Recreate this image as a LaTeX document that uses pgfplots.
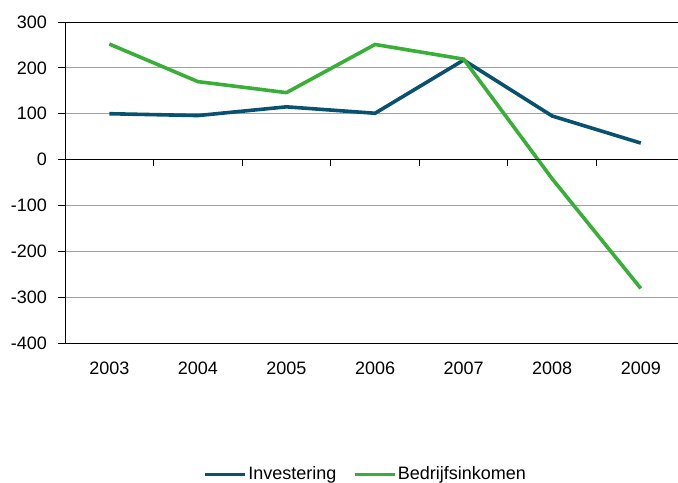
\documentclass[border=0pt]{standalone}
\usepackage{pgfplots}
\pgfplotsset{compat=1.18}
\usetikzlibrary{calc}
\usepackage{fontspec}
\setmainfont{Liberation Sans}
\definecolor{invblue}{RGB}{8,82,112}
\definecolor{bedgreen}{RGB}{56,176,56}
\definecolor{gridgray}{RGB}{160,160,160}

\begin{document}
\fontsize{18bp}{21bp}\selectfont
\begin{tikzpicture}
\begin{axis}[
    scale only axis,
    width=613bp, height=321bp,
    xmin=-0.5, xmax=6.42,
    ymin=-400, ymax=300,
    ytick={-400,-300,...,300},
    xtick=data,
    xticklabels={2003,2004,2005,2006,2007,2008,2009},
    axis x line*=bottom, axis y line*=left,
    axis line style={black, line width=0.9bp},
    major tick length=7bp,
    tick align=outside,
    ytick style={black, line width=0.9bp},
    xtick style={draw=none},
    ymajorgrids,
    grid style={gridgray, line width=0.9bp},
    /pgf/number format/assume math mode=true,
    tick label style={font=\fontsize{18bp}{21bp}\selectfont},
    xticklabel style={yshift=-6bp},
    yticklabel style={xshift=-5bp},
    legend style={at={(axis description cs:0.49,-0.41)}, anchor=center,
        draw=none, legend columns=2, font=\fontsize{18bp}{21bp}\selectfont,
        /tikz/every even column/.append style={column sep=15bp},
        nodes={inner xsep=1.5bp},
        inner sep=0pt},
    legend cell align=left,
    legend image code/.code={\draw[#1, line width=3.6bp] (0,0) -- (40bp,0);},
    clip=false,
]
\addplot[invblue, line width=3.6bp] coordinates {
    (0,100) (1,96) (2,115) (3,101) (4,217) (5,95) (6,36)};
\addlegendentry{Investering}
\addplot[bedgreen, line width=3.6bp] coordinates {
    (0,252) (1,170) (2,146) (3,251) (4,219) (5,-42) (6,-281)};
\addlegendentry{Bedrijfsinkomen}
\draw[black, line width=0.9bp] (rel axis cs:0,1) -- (rel axis cs:1,1);
\draw[black, line width=0.9bp] (axis cs:-0.5,0) -- (axis cs:6.42,0);
\draw[black, line width=0.9bp] (axis cs:0.5,0) -- ([yshift=-6bp]axis cs:0.5,0);
\draw[black, line width=0.9bp] (axis cs:1.5,0) -- ([yshift=-6bp]axis cs:1.5,0);
\draw[black, line width=0.9bp] (axis cs:2.5,0) -- ([yshift=-6bp]axis cs:2.5,0);
\draw[black, line width=0.9bp] (axis cs:3.5,0) -- ([yshift=-6bp]axis cs:3.5,0);
\draw[black, line width=0.9bp] (axis cs:4.5,0) -- ([yshift=-6bp]axis cs:4.5,0);
\draw[black, line width=0.9bp] (axis cs:5.5,0) -- ([yshift=-6bp]axis cs:5.5,0);
\coordinate (O) at (rel axis cs:0,0);
\end{axis}
\pgfresetboundingbox
\path[use as bounding box] ($(O)+(-65bp,-140bp)$) rectangle ($(O)+(613bp,343bp)$);
\end{tikzpicture}
\end{document}
